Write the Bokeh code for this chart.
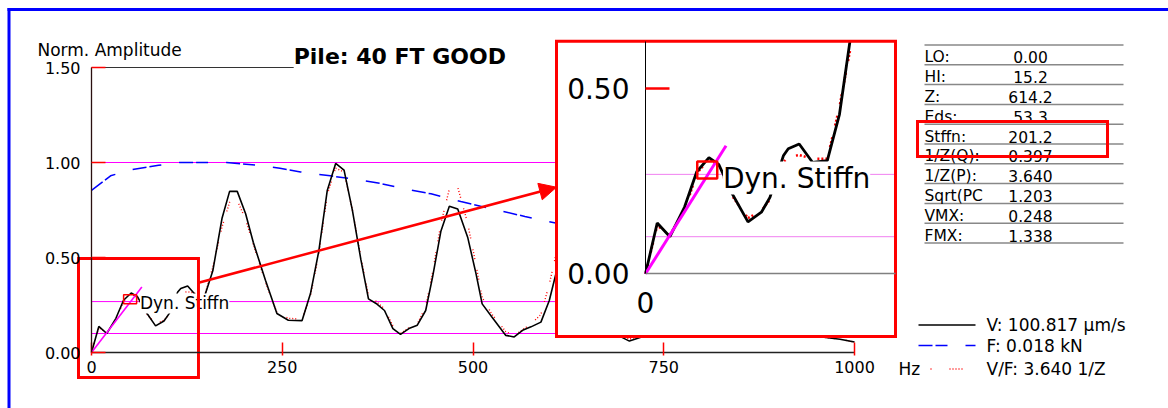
import numpy as np
from bokeh.plotting import figure
from bokeh.models import (Range1d, LinearAxis, FixedTicker, NumeralTickFormatter,
                          Arrow, NormalHead)
from bokeh.core.properties import value
from bokeh.embed import file_html
from bokeh.resources import INLINE

# ---------------- data ----------------
freq_v = [0, 9.6, 20, 32, 42, 52, 60, 71, 84, 95, 102, 113, 117, 126, 137, 149, 159, 171, 181, 191,
          202, 212, 228, 243, 258, 276, 287, 298, 309, 320, 331, 342, 353, 363, 373, 384, 395, 405, 416, 427,
          438, 447, 458, 469, 480, 493, 504, 512, 525, 543, 554, 565, 576, 589, 600, 609, 620, 632, 645, 660,
          675, 690, 705, 720, 740, 760, 775, 790, 810, 830, 850, 870, 890, 905, 920, 940, 960, 981, 1000]
amp_v = [0.0, 0.137, 0.10, 0.18, 0.275, 0.313, 0.295, 0.216, 0.14, 0.166, 0.206, 0.318, 0.337, 0.35, 0.30, 0.305, 0.43, 0.705, 0.848, 0.848,
         0.73, 0.58, 0.38, 0.205, 0.17, 0.168, 0.31, 0.536, 0.853, 0.995, 0.96, 0.747, 0.49, 0.282, 0.258, 0.221, 0.126, 0.095, 0.126, 0.144,
         0.221, 0.397, 0.64, 0.77, 0.755, 0.607, 0.414, 0.256, 0.186, 0.09, 0.082, 0.117, 0.135, 0.16, 0.274, 0.42, 0.58, 0.64, 0.55, 0.30,
         0.15, 0.09, 0.06, 0.08, 0.20, 0.38, 0.42, 0.33, 0.18, 0.10, 0.08, 0.12, 0.15, 0.10, 0.08, 0.09, 0.08, 0.07, 0.055]
amp_vf = [0.0, 0.13, 0.105, 0.17, 0.27, 0.31, 0.29, 0.21, 0.15, 0.17, 0.20, 0.30, 0.315, 0.32, 0.31, 0.31, 0.45, 0.66, 0.79, 0.80,
          0.70, 0.57, 0.37, 0.21, 0.18, 0.175, 0.30, 0.52, 0.83, 0.97, 0.95, 0.75, 0.50, 0.30, 0.27, 0.23, 0.14, 0.10, 0.13, 0.15,
          0.24, 0.42, 0.68, 0.86, 0.87, 0.68, 0.46, 0.29, 0.20, 0.11, 0.09, 0.12, 0.15, 0.20, 0.36, 0.52, 0.62, 0.66, 0.56, 0.31,
          0.16, 0.10, 0.07, 0.09, 0.21, 0.39, 0.43, 0.34, 0.19, 0.11, 0.09, 0.12, 0.15, 0.11, 0.09, 0.09, 0.08, 0.07, 0.055]
freq_f = [0, 25, 50, 88, 115, 150, 177, 221, 247, 274, 313, 356, 378, 418, 445, 484, 510, 568, 610, 700, 800, 900, 1000]
amp_f = [0.853, 0.93, 0.96, 0.985, 1.0, 1.0, 1.0, 0.985, 0.97, 0.95, 0.93, 0.905, 0.89, 0.855, 0.835, 0.795, 0.77, 0.716, 0.68,
         0.61, 0.54, 0.47, 0.40]
ref_levels = [1.00, 0.268, 0.10]
stiff_x = [0, 66]
stiff_y = [0, 0.345]
stiff_pt_x = [50.6]
stiff_pt_y = [0.28]
stiff_label = ["Dyn. Stiffn"]
stiff_label_x = [63.5]
stiff_label_y = [0.258]
x_ticks = [0, 250, 500, 750, 1000]
y_ticks = [0.0, 0.5, 1.0, 1.5]
inset_y_ticks = [0.5]
inset_zero_ticks = [0]
table_labels = ["LO:", "HI:", "Z:", "Eds:", "Stffn:", "1/Z(Q):", "1/Z(P):", "Sqrt(PC", "VMX:", "FMX:"]
table_values = ["0.00", "15.2", "614.2", "53.3", "201.2", "0.397", "3.640", "1.203", "0.248", "1.338"]
legend_labels = ["V: 100.817 \u00b5m/s", "F: 0.018 kN", "V/F: 3.640 1/Z"]
title_text = "Pile: 40 FT GOOD"
y_title = "Norm. Amplitude"
x_unit = "Hz"

FONT = "DejaVu Sans"
W, H = 1168, 408

# main data <-> pixel mapping: 0 Hz at px 91, 0.763 px/Hz ; 0 at px 352, 190 px/unit
p = figure(width=W, height=H, output_backend="svg", toolbar_location=None,
           x_axis_location=None, y_axis_location=None, min_border=0,
           x_range=Range1d(-91 / 0.763, (W - 91) / 0.763),
           y_range=Range1d((352 - H) / 190, 352 / 190),
           outline_line_color=None, background_fill_color="white", border_fill_color="white")
p.grid.visible = False

# inset: 0 Hz at px 645, 1.22 px/Hz ; 0 at px 273.3, 371 px/unit
p.extra_x_ranges = {"ix": Range1d(-645 / 1.22, (W - 645) / 1.22), "px": Range1d(0, W)}
p.extra_y_ranges = {"iy": Range1d((273.3 - H) / 371, 273.3 / 371), "py": Range1d(H, 0)}
IX = dict(x_range_name="ix", y_range_name="iy")
PX = dict(x_range_name="px", y_range_name="py")
in_left, in_right = (556 - 645) / 1.22, (895 - 645) / 1.22
in_top, in_bottom = (273.3 - 40.7) / 371, (273.3 - 336) / 371

# ---------------- main chart ----------------
p.segment(x0=x_ticks[0], x1=x_ticks[-1], y0=ref_levels, y1=ref_levels, line_color="#ff00ff", line_width=1)
title_x = 265
p.segment(x0=[x_ticks[0]], x1=[title_x], y0=[y_ticks[-1]], y1=[y_ticks[-1]], line_color="#333333", line_width=1.2)
p.line(freq_f, amp_f, line_color="#0000ff", line_width=1.5, line_dash="14 3 12 18")
p.line(freq_v, amp_vf, line_color="#ff0000", line_width=1.4, line_dash="1 2 1 2 1 2 1 11")
p.line(freq_v, amp_v, line_color="black", line_width=1.6)
p.line(stiff_x, stiff_y, line_color="#ff00ff", line_width=1.6)
p.rect(x=stiff_pt_x, y=stiff_pt_y, width=13, height=9, width_units="screen", height_units="screen",
       fill_color=None, line_color="red", line_width=1.5)
p.text(x=stiff_label_x, y=stiff_label_y, text=stiff_label, text_font=value(FONT), text_font_size="17px",
       text_baseline="middle", text_align="left", text_color="black",
       background_fill_color="white")
p.text(x=[title_x], y=[(352 - 56) / 190], text=[title_text], text_font=value(FONT), text_font_size="22px",
       text_font_style="bold", text_baseline="middle", text_color="black")

# highlight box on main chart
p.quad(left=[-17], right=[140.2], top=[0.495], bottom=[-0.132], fill_color=None,
       line_color="red", line_width=3, line_join="miter")

xa = LinearAxis(fixed_location=0, bounds=(x_ticks[0], x_ticks[-1]), ticker=FixedTicker(ticks=x_ticks),
                axis_line_color="#222222", axis_line_width=1.3,
                major_tick_line_color="red", major_tick_line_width=1.5, major_tick_in=10, major_tick_out=3,
                minor_tick_line_color=None, major_label_standoff=5,
                major_label_text_font=FONT, major_label_text_font_size="16px", major_label_text_color="black")
p.add_layout(xa, "below")
ya = LinearAxis(fixed_location=0, bounds=(y_ticks[0], y_ticks[-1]), ticker=FixedTicker(ticks=y_ticks),
                formatter=NumeralTickFormatter(format="0.00"),
                axis_line_color="#2a1010", axis_line_width=1.3,
                major_tick_line_color="red", major_tick_line_width=1.5, major_tick_in=14, major_tick_out=0,
                minor_tick_line_color=None, major_label_standoff=11,
                major_label_text_font=FONT, major_label_text_font_size="16px", major_label_text_color="black")
p.add_layout(ya, "left")

# ---------------- inset ----------------
p.quad(left=[in_left], right=[in_right], top=[in_top], bottom=[in_bottom], fill_color="white",
       line_color=None, **IX)
inset_levels = [lv for lv in ref_levels if lv < in_top]
p.segment(x0=0, x1=in_right, y0=inset_levels, y1=inset_levels, line_color="#f080f0", line_width=1, **IX)
fv = np.array(freq_v)
keep = fv <= 171
p.line(fv[keep], np.array(amp_vf)[keep], line_color="#ff0000", line_width=2.5,
       line_dash="2 2 2 2 2 12", **IX)
p.line(fv[keep], np.array(amp_v)[keep], line_color="black", line_width=2.8, **IX)
p.line(stiff_x, stiff_y, line_color="#ff00ff", line_width=3, **IX)
p.rect(x=stiff_pt_x, y=stiff_pt_y, width=20, height=17, width_units="screen", height_units="screen",
       fill_color=None, line_color="red", line_width=2.5, **IX)
p.text(x=stiff_label_x, y=stiff_label_y, text=stiff_label, text_font=value(FONT), text_font_size="28px",
       text_baseline="middle", text_align="left", text_color="black",
       background_fill_color="white", **IX)
# mask above inset
p.quad(left=[in_left], right=[in_right], top=[(273.3 - 10.5) / 371], bottom=[in_top], fill_color="white",
       line_color=None, **IX)
p.quad(left=[in_left], right=[in_right], top=[in_top], bottom=[in_bottom], fill_color=None,
       line_color="red", line_width=3, line_join="miter", **IX)

iya = LinearAxis(fixed_location=0, bounds=(0, in_top), ticker=FixedTicker(ticks=inset_y_ticks),
                 formatter=NumeralTickFormatter(format="0.00"),
                 axis_line_color="black", axis_line_width=1,
                 major_tick_line_color="red", major_tick_line_width=2.5, major_tick_in=24, major_tick_out=0,
                 minor_tick_line_color=None, major_label_standoff=16,
                 major_label_text_font=FONT, major_label_text_font_size="28px", major_label_text_color="black", **IX)
p.add_layout(iya, "left")
iya0 = LinearAxis(fixed_location=0, bounds=(0, in_top), ticker=FixedTicker(ticks=inset_zero_ticks),
                  formatter=NumeralTickFormatter(format="0.00"), axis_line_color=None,
                  major_tick_line_color=None, major_tick_in=0, major_tick_out=0,
                  minor_tick_line_color=None, major_label_standoff=16,
                  major_label_text_font=FONT, major_label_text_font_size="28px", major_label_text_color="black", **IX)
p.add_layout(iya0, "left")
ixa = LinearAxis(fixed_location=0, bounds=(0, in_right), ticker=FixedTicker(ticks=inset_zero_ticks),
                 axis_line_color="#808080", axis_line_width=1.5,
                 major_tick_line_color=None, major_tick_in=0, major_tick_out=0,
                 minor_tick_line_color=None, major_label_standoff=18,
                 major_label_text_font=FONT, major_label_text_font_size="28px", major_label_text_color="black", **IX)
p.add_layout(ixa, "below")

# arrow from highlight box to inset
p.add_layout(Arrow(end=NormalHead(size=17, fill_color="red", line_color="red"),
                   x_start=140.2, y_start=0.367, x_end=609.4, y_end=0.87,
                   line_color="red", line_width=2.5))

# ---------------- texts / table / legend (pixel space) ----------------
p.text(x=[37], y=[49], text=[y_title], text_font=value(FONT), text_font_size="17px",
       text_baseline="middle", text_color="black", **PX)
p.text(x=[898], y=[368.5], text=[x_unit], text_font=value(FONT), text_font_size="17px",
       text_baseline="middle", text_color="black", **PX)

n = len(table_labels)
line_y = 44.5 + 19.8 * np.arange(n + 1)
p.segment(x0=924, x1=1123, y0=line_y, y1=line_y, line_color="#888888", line_width=1.5, **PX)
p.text(x=924, y=line_y[1:] - 7.5, text=table_labels, text_font=value(FONT), text_font_size="15.5px",
       text_baseline="middle", text_align="left", text_color="black", **PX)
p.text(x=1030, y=line_y[1:] - 7.5, text=table_values, text_font=value(FONT), text_font_size="15.5px",
       text_baseline="middle", text_align="center", text_color="black", **PX)
p.quad(left=[917], right=[1107], top=[121], bottom=[156], fill_color=None, line_color="red",
       line_width=3, line_join="miter", **PX)

leg_y = [324.5, 345, 368.5]
p.segment(x0=[918], x1=[975], y0=[leg_y[0]], y1=[leg_y[0]], line_color="black", line_width=1.5, **PX)
p.segment(x0=[918], x1=[975], y0=[leg_y[1]], y1=[leg_y[1]], line_color="#0000ff", line_width=1.5,
          line_dash="14 3 12 18", **PX)
p.segment(x0=[930], x1=[963], y0=[leg_y[2]], y1=[leg_y[2]], line_color="#ff0000", line_width=1.4,
          line_dash="1 18 1 2 1 2 1 2 1 2 1 2", **PX)
p.text(x=986, y=[324, 345.5, 368.5], text=legend_labels, text_font=value(FONT), text_font_size="17px",
       text_baseline="middle", text_align="left", text_color="black", **PX)

# blue page border (top and left)
p.segment(x0=[7, 8.5], x1=[W, 8.5], y0=[9, 7.5], y1=[9, H], line_color="#0000ff", line_width=3, **PX)

open("out.html", "w").write(file_html(p, INLINE))
